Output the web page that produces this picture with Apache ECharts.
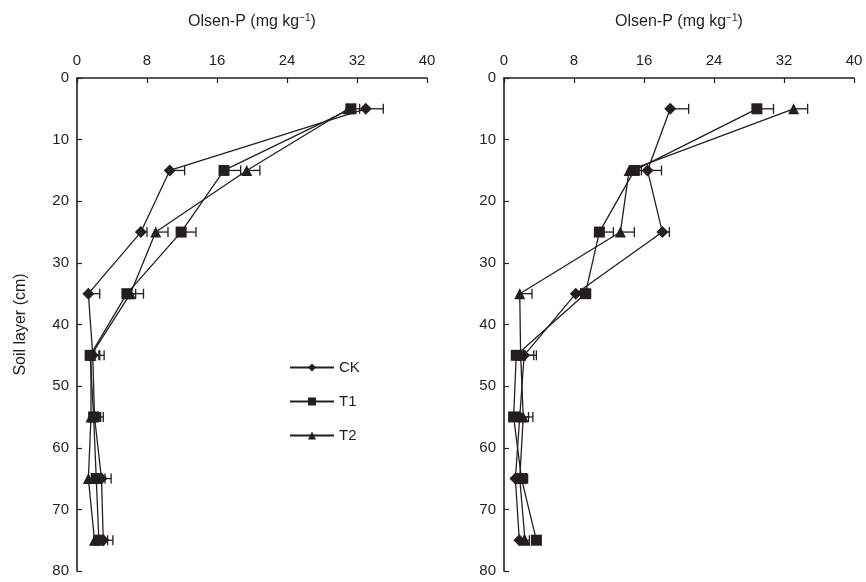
<!DOCTYPE html>
<html>
<head>
<meta charset="utf-8">
<script src="https://cdn.jsdelivr.net/npm/echarts@6/dist/echarts.min.js"></script>
<style>
  html, body { margin: 0; padding: 0; background: #fff; }
  #chart { width: 866px; height: 582px; }
</style>
</head>
<body>
<div id="chart"></div>
<script>
// soil depth of each sample (cm)
var depths = [5, 15, 25, 35, 45, 55, 65, 75];
var xTicks = [0, 8, 16, 24, 32, 40];
var yTicks = [0, 10, 20, 30, 40, 50, 60, 70, 80];

// left panel, Olsen-P mean and SE (mg/kg)
var leftCK = [33.0, 10.6, 7.3, 1.3, 1.8, 2.0, 2.8, 3.0];
var leftCKErr = [2.0, 1.7, 0.7, 1.3, 1.3, 1.0, 1.1, 1.1];
var leftT1 = [31.3, 16.8, 11.9, 5.7, 1.5, 1.9, 2.2, 2.5];
var leftT1Err = [1.0, 1.9, 1.7, 1.0, 1.0, 0.8, 1.0, 1.0];
var leftT2 = [31.0, 19.4, 9.0, 6.1, 1.6, 1.6, 1.3, 2.0];
var leftT2Err = [0.8, 1.5, 1.4, 1.5, 1.0, 1.0, 1.0, 0.9];

// right panel
var rightCK = [19.0, 16.4, 18.1, 8.2, 2.3, 1.8, 1.3, 1.75];
var rightCKErr = [2.1, 1.6, 0.8, 0.8, 1.4, 1.0, 0.5, 0.5];
var rightT1 = [28.9, 14.9, 10.9, 9.3, 1.4, 1.1, 2.0, 3.7];
var rightT1Err = [1.9, 0.8, 1.6, 0.6, 1.0, 0.8, 0.7, 0.5];
var rightT2 = [33.1, 14.3, 13.3, 1.8, 1.9, 2.2, 1.8, 2.4];
var rightT2Err = [1.6, 0.8, 1.6, 1.4, 1.5, 1.1, 0.8, 0.5];

var ink = '#231f20';
var font = 'Liberation Sans, Arial, sans-serif';

function pairs(vals) {
    return vals.map(function (v, i) { return [v, depths[i]]; });
}
function errData(vals, errs) {
    return vals.map(function (v, i) { return [v, errs[i], depths[i]]; });
}

function errorSeries(name, idx, vals, errs) {
    return {
        name: name + '-err',
        type: 'custom',
        xAxisIndex: idx,
        yAxisIndex: idx,
        z: 1,
        silent: true,
        encode: { x: 0, y: 2 },
        data: errData(vals, errs),
        renderItem: function (params, api) {
            var x = api.value(0), e = api.value(1), y = api.value(2);
            var p0 = api.coord([x, y]);
            var p1 = api.coord([x + e, y]);
            var st = { stroke: ink, lineWidth: 1.3 };
            return {
                type: 'group',
                children: [
                    { type: 'line', shape: { x1: p0[0], y1: p0[1], x2: p1[0], y2: p1[1] }, style: st },
                    { type: 'line', shape: { x1: p1[0], y1: p1[1] - 5, x2: p1[0], y2: p1[1] + 5 }, style: st }
                ]
            };
        }
    };
}

function lineSeries(name, idx, vals, symbol, size) {
    return {
        name: name,
        type: 'line',
        xAxisIndex: idx,
        yAxisIndex: idx,
        z: 2,
        data: pairs(vals),
        symbol: symbol,
        symbolSize: size,
        showAllSymbol: true,
        lineStyle: { color: ink, width: 1.3 },
        itemStyle: { color: ink, borderWidth: 0 },
        emphasis: { disabled: true }
    };
}

function makeXAxis(idx) {
    return {
        type: 'value',
        gridIndex: idx,
        position: 'top',
        min: 0, max: 40, interval: 8,
        name: 'Olsen-P (mg kg{sup|\u22121})',
        nameLocation: 'middle',
        nameGap: 47,
        nameTextStyle: {
            color: ink, fontSize: 16, fontFamily: font,
            rich: { sup: { fontSize: 10, verticalAlign: 'top', color: ink, padding: [0, 0, 8, 0], fontFamily: font } }
        },
        axisLine: { lineStyle: { color: ink, width: 1.6 } },
        axisTick: { inside: true, length: 5, lineStyle: { color: ink, width: 1.2 } },
        axisLabel: { color: ink, fontSize: 15, fontFamily: font, margin: 10 },
        splitLine: { show: false }
    };
}

function makeYAxis(idx, withName) {
    return {
        type: 'value',
        gridIndex: idx,
        inverse: true,
        min: 0, max: 80, interval: 10,
        name: withName ? 'Soil layer (cm)' : '',
        nameLocation: 'middle',
        nameGap: 48,
        nameRotate: 90,
        nameTextStyle: { color: ink, fontSize: 16, fontFamily: font },
        axisLine: { lineStyle: { color: ink, width: 1.6 } },
        axisTick: { inside: true, length: 5, lineStyle: { color: ink, width: 1.2 } },
        axisLabel: { color: ink, fontSize: 15, fontFamily: font, margin: 8 },
        splitLine: { show: false }
    };
}

var chart = echarts.init(document.getElementById('chart'), null, { renderer: 'canvas' });

var option = {
    backgroundColor: '#fff',
    animation: false,
    grid: [
        { left: 77, top: 78, width: 350, height: 493 },
        { left: 504, top: 78, width: 350, height: 493 }
    ],
    legend: {
        data: ['CK', 'T1', 'T2'],
        orient: 'vertical',
        left: 284,
        top: 355,
        itemWidth: 44,
        itemHeight: 10,
        itemGap: 19,
        textStyle: { color: ink, fontSize: 15, fontFamily: font },
        selectedMode: false
    },
    xAxis: [makeXAxis(0), makeXAxis(1)],
    yAxis: [makeYAxis(0, true), makeYAxis(1, false)],
    series: [
        errorSeries('CK', 0, leftCK, leftCKErr),
        errorSeries('T1', 0, leftT1, leftT1Err),
        errorSeries('T2', 0, leftT2, leftT2Err),
        errorSeries('CK', 1, rightCK, rightCKErr),
        errorSeries('T1', 1, rightT1, rightT1Err),
        errorSeries('T2', 1, rightT2, rightT2Err),
        lineSeries('CK', 0, leftCK, 'diamond', 12),
        lineSeries('T1', 0, leftT1, 'rect', 11),
        lineSeries('T2', 0, leftT2, 'triangle', 11),
        lineSeries('CK', 1, rightCK, 'diamond', 12),
        lineSeries('T1', 1, rightT1, 'rect', 11),
        lineSeries('T2', 1, rightT2, 'triangle', 11)
    ]
};

chart.setOption(option);
</script>
</body>
</html>
